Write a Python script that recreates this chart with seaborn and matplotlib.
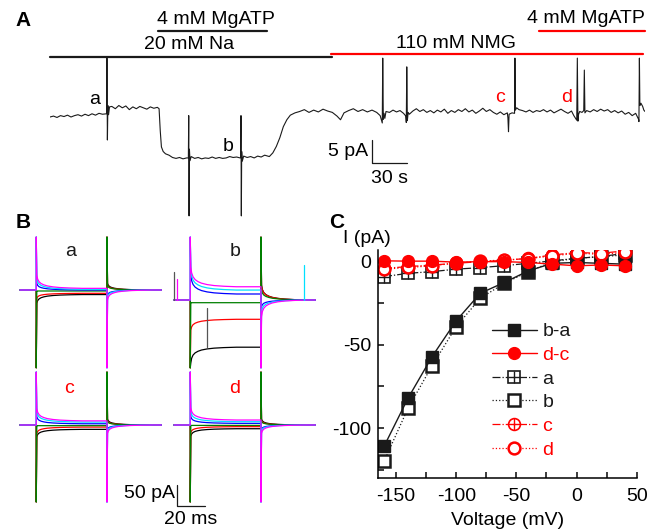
import matplotlib
matplotlib.use("Agg")
import matplotlib.pyplot as plt
from matplotlib.lines import Line2D
from matplotlib.ticker import MultipleLocator
import seaborn as sns

# ─── Panel A: continuous recording (time in s, current in pA) ─────────────
A_T = [0, 3, 6, 9, 12, 15, 18, 21, 24, 27, 30, 33, 36, 39, 42, 45, 48,
       48.5, 48.8, 49.2, 49.6, 50.2, 51,
       53, 56, 59, 62, 65, 68, 71, 74, 77, 80, 83, 86, 89, 92,
       93.5, 94.5, 95.5, 97, 99, 102, 105, 108, 111, 114, 117,
       118.6, 118.9, 119.2, 119.5, 120, 121,
       124, 127, 130, 133, 136, 139, 142, 145, 148, 151, 154, 157, 160, 163,
       163.4, 163.7, 164.0, 164.3, 164.8, 166,
       169, 172, 175, 178, 181, 184, 188, 191, 194, 197, 200, 203, 206, 210,
       214, 218, 222, 226, 230, 234, 238, 242, 246, 249, 252, 256, 260, 264,
       268, 272, 276, 280, 283,
       284.8, 285.2, 285.7, 286.3, 287, 288,
       291, 294, 297, 300, 303, 305.0,
       305.4, 305.8, 306.3, 307, 308,
       311, 314, 317, 320, 323, 326, 329, 332, 335, 338, 341, 344, 347, 350,
       353, 356, 359, 362, 365, 368, 371, 374, 377, 380, 383, 386, 389, 392,
       392.5, 393, 393.5, 396, 398.2, 398.5, 398.9, 400, 402,
       405, 408, 411, 414, 417, 420, 423, 426, 429, 432, 435, 438, 441, 444,
       447, 449,
       451.5, 452, 452.5, 453, 454, 456, 457.5, 458, 458.5, 460,
       463, 466, 469, 472, 475, 478, 481, 484, 487, 490, 493, 496, 499, 502,
       504.5, 504.8, 505.2, 505.6, 506.5, 508, 509, 510]
A_I = [0.0, 0.2, -0.1, 0.3, 0.1, 0.4, 0.0, 0.3, 0.5, 0.2, 0.6, 0.3, 0.7, 0.4, 0.8, 0.6, 0.7,
       0.7, 12.8, -5.0, 2.5, 0.5, 2.2,
       2.3, 1.8, 2.5, 2.0, 2.4, 1.6, 2.2, 1.8, 2.3, 2.0, 1.7, 2.2, 1.9, 2.1,
       1.8, -3.0, -6.5, -7.5, -8.0, -8.3, -8.8, -9.0, -8.8, -9.1, -8.9,
       -8.9, 0.3, -21.5, -7.0, -9.5, -8.6,
       -9.0, -8.8, -9.1, -8.9, -9.0, -8.7, -9.0, -8.8, -9.0, -8.9, -8.6, -8.8, -8.7, -8.9,
       -8.8, 0.3, -21.5, -7.5, -9.6, -8.5,
       -8.8, -8.6, -8.9, -8.5, -8.7, -8.3, -8.6, -7.8, -6.4, -4.5, -2.1, -0.6, 0.4, 0.9,
       1.2, 1.6, 1.0, 1.5, 1.1, 1.7, 1.3, 1.0, 0.2, -0.6, 0.9, 1.4, 1.8, 1.2,
       1.6, 1.1, 1.5, 1.0, 0.3,
       -1.3, 12.8, -0.5, 0.8, -0.3, 1.2,
       1.0, 1.5, 1.1, 1.4, 0.8, 0.2,
       -1.2, 10.9, -0.8, 1.0, 0.6,
       1.3, 1.8, 1.2, 1.6, 1.0, 1.4, 0.9, 1.5, 1.1, 1.7, 0.8, 1.4, 1.0, 1.6,
       1.2, 1.8, 1.1, 1.5, 0.8, 1.3, 1.9, 1.2, 1.6, 1.0, 0.6, 1.1, 0.5, 0.9,
       -0.2, -3.2, 0.6, 0.9, 0.8, 12.8, 1.5, 2.0, 1.6,
       1.4, 1.1, 1.5, 1.0, 1.4, 1.2, 1.6, 1.1, 1.5, 0.9, 1.3, 1.7, 1.2, 0.8,
       1.3, 0.3,
       -0.7, 12.8, -0.9, 0.5, 1.2, 1.0, 1.4, 10.2, 0.9, 1.4,
       1.1, 1.6, 1.2, 1.7, 1.3, 1.6, 1.0, 1.4, 0.9, 1.3, 0.6, 1.0, 0.3, 0.8,
       -0.5, -1.0, 12.8, 2.5, 3.0, 2.3, 1.5, 1.2]

# solution bars (start s, end s)
NA_BAR = [0, 242]
NMG_BAR = [241, 508]
ATP1_BAR = [92.5, 186]
ATP2_BAR = [419, 510]

# ─── Panel B: step currents (time in ms, current in pA) ───────────────────
B_COLORS = ["#000000", "#ff0000", "#007f00", "#0000ff", "#00e0ff", "#ff00ff"]
SPIKE_DIR = [-1, -1, -1, 1, 1, 1]
T_ON, T_OFF, T_END = 11.6, 62.1, 101.0
TAIL_DT = [0.4, 1, 2, 3.5, 5.5, 8, 12, 17, 24, 33]
TAIL_FRAC = [1.0, 0.7, 0.5, 0.36, 0.26, 0.18, 0.11, 0.06, 0.025, 0.0]

LEVEL_a = [-11, -8, -2.4, 0, 1.6, 4]
ON_a = [-21, -12, 0, 16, 26, 32]
OFF_a = [16, 12, 10, -12, -16, -24]

LEVEL_b = [-114, -46.6, -6.5, 14.5, 24, 32]
ON_b = [-38, -26, 0, 46, 48, 48]
OFF_b = [36, 34, 24, -16, -28, -40]

LEVEL_c = [-10.5, -5, -1.6, 3, 7, 10]
ON_c = [-18, -15, 0, 17, 25, 30]
OFF_c = [14, 10, 8, -10, -14, -20]

LEVEL_d = [-9, -4, -1, 4, 8, 12]
ON_d = [-18, -14, 0, 16, 24, 30]
OFF_d = [14, 10, 8, -10, -14, -20]

CLIP_a = [128, -188]
CLIP_b = [152, -164]
CLIP_c = [128, -186]
CLIP_d = [128, -186]

# artefacts in trace b: time, low, high, colour
ART_T = [0.0, 2.4, 93.0, 23.8]
ART_LO = [0, 0, 0, -114]
ART_HI = [68, 51, 85, -19]
ART_COL = ["#555555", "#ff00ff", "#00e0ff", "#555555"]

# ─── Panel C: I-V relations ───────────────────────────────────────────────
VOLT = [-160, -140, -120, -100, -80, -60, -40, -20, 0, 20, 40]
I_BA = [-111, -82, -57, -35.5, -19, -12.5, -5.5, -1, -0.5, -1, -1.5]
I_DC = [0.5, 0.3, 0.3, -0.3, 0, 0, -0.5, -1.5, -2.5, -2, -2.5]
I_A = [-9, -7, -6, -4.5, -3.6, -2.4, -1, 0.5, 2, 3, 5]
I_B = [-120, -88, -62.5, -39, -22, -13, -6, 0, 2, 3, 4]
I_C = [-4, -3, -2, -1, 0, 0.8, 2, 4, 5.5, 5, 6.5]
I_D = [-4.5, -3.5, -2.5, -0.8, 0.3, 1, 1.8, 3.5, 5, 4.5, 5.5]

# ─── Style ────────────────────────────────────────────────────────────────
sns.set_theme(style="ticks")
plt.rcParams.update({
    "font.family": ["Liberation Sans", "DejaVu Sans"],
    "text.color": "black",
    "axes.labelcolor": "black",
    "axes.edgecolor": "black",
    "xtick.color": "black",
    "ytick.color": "black",
    "xtick.bottom": True,
    "ytick.left": True,
    "xtick.direction": "in",
    "ytick.direction": "in",
    "axes.unicode_minus": False,
    "font.size": 14,
})

W, H = 656, 529
RED = "#ff0000"
FS = 14


def box(l, t, r, b):
    return [l / W, 1 - b / H, (r - l) / W, (b - t) / H]


fig = plt.figure(figsize=(W / 100, H / 100), dpi=100)

# ─── A ────────────────────────────────────────────────────────────────────
axA = fig.add_axes(box(50, 5, 645, 225))
axA.set_xlim(0, 510)
axA.set_ylim(-23.48, 24.35)
axA.axis("off")
axA.plot(A_T, A_I, color="k", lw=0.8)

axA.plot(NA_BAR, [13.0, 13.0], color="k", lw=1.6, clip_on=False)
axA.plot(NMG_BAR, [13.6, 13.6], color=RED, lw=1.6, clip_on=False)
axA.plot(ATP1_BAR, [18.6, 18.6], color="k", lw=1.6, clip_on=False)
axA.plot(ATP2_BAR, [18.6, 18.6], color=RED, lw=1.6, clip_on=False)
axA.text(142, 21.2, "4 mM MgATP", ha="center", va="center", fontsize=FS)
axA.text(119, 15.7, "20 mM Na", ha="center", va="center", fontsize=FS)
axA.text(348, 16.0, "110 mM NMG", ha="center", va="center", fontsize=FS)
axA.text(459, 21.4, "4 mM MgATP", ha="center", va="center", fontsize=FS)
axA.text(38.6, 3.8, "a", ha="center", va="center", fontsize=FS)
axA.text(153, -6.4, "b", ha="center", va="center", fontsize=FS)
axA.text(386, 4.3, "c", ha="center", va="center", fontsize=FS, color=RED)
axA.text(443, 4.3, "d", ha="center", va="center", fontsize=FS, color=RED)

# scale bar 5 pA / 30 s
axA.plot([276, 276, 306], [-5, -10, -10], color="k", lw=0.9, clip_on=False)
axA.text(273, -7.4, "5 pA", ha="right", va="center", fontsize=FS)
axA.text(291, -13.4, "30 s", ha="center", va="center", fontsize=FS)

fig.text(23 / W, 1 - 21 / H, "A", fontsize=15, fontweight="bold", ha="center", va="center")
fig.text(23 / W, 1 - 222 / H, "B", fontsize=15, fontweight="bold", ha="center", va="center")
fig.text(337 / W, 1 - 222 / H, "C", fontsize=15, fontweight="bold", ha="center", va="center")


# ─── B ────────────────────────────────────────────────────────────────────
def draw_steps(x0, y0, level, tail_on, tail_off, clip, label, lab_xy, lab_color):
    ax = fig.add_axes(box(x0 - 5, y0 - 70, x0 + 145, y0 + 90))
    ax.set_xlim(-3.57, 103.53)
    ax.set_ylim(-217.35, 169.05)
    ax.axis("off")
    ax.patch.set_alpha(0)
    for k, col in enumerate(B_COLORS):
        up, dn = clip
        on = up if SPIKE_DIR[k] > 0 else dn
        off = dn if SPIKE_DIR[k] > 0 else up
        t = ([0, T_ON, T_ON] + [T_ON + s for s in TAIL_DT] + [T_OFF, T_OFF]
             + [T_OFF + s for s in TAIL_DT] + [T_END])
        y = ([0, 0, on] + [level[k] + tail_on[k] * f for f in TAIL_FRAC] + [level[k], off]
             + [tail_off[k] * f for f in TAIL_FRAC] + [0])
        ax.plot(t, y, color=col, lw=0.9)
    ax.text(lab_xy[0], lab_xy[1], label, ha="center", va="center", fontsize=FS,
            color=lab_color, clip_on=False)
    return ax


draw_steps(20, 290, LEVEL_a, ON_a, OFF_a, CLIP_a, "a", (36.4, 92), "k")
axb = draw_steps(174, 300, LEVEL_b, ON_b, OFF_b, CLIP_b, "b", (44, 116), "k")
for t, lo, hi, col in zip(ART_T, ART_LO, ART_HI, ART_COL):
    axb.plot([t, t], [lo, hi], color=col, lw=0.9)
draw_steps(20, 425, LEVEL_c, ON_c, OFF_c, CLIP_c, "c", (35, 89), RED)
axd = draw_steps(174, 425, LEVEL_d, ON_d, OFF_d, CLIP_d, "d", (43.6, 89), RED)

# scale bar 50 pA / 20 ms
axd.plot([1.9, 1.9, 21.9], [-145, -195, -195], color="k", lw=0.9, clip_on=False)
axd.text(1.0, -165, "50 pA", ha="right", va="center", fontsize=FS)
axd.text(12, -228, "20 ms", ha="center", va="center", fontsize=FS, clip_on=False)

# ─── C ────────────────────────────────────────────────────────────────────
axC = fig.add_axes(box(378, 250, 636.7, 478))
ms, mew = 8.5, 1.8

sns.lineplot(x=VOLT, y=I_A, ax=axC, estimator=None, sort=False, color="k", lw=0.9,
             linestyle="-.", marker="s", markersize=ms, markerfacecolor="white",
             markeredgecolor="k", markeredgewidth=1.2)
axC.plot(VOLT, I_A, linestyle="none", marker="+", markersize=ms, color="k", mew=1.0)
sns.lineplot(x=VOLT, y=I_B, ax=axC, estimator=None, sort=False, color="k", lw=0.9,
             linestyle=":", marker="s", markersize=ms, markerfacecolor="white",
             markeredgecolor="k", markeredgewidth=mew)
sns.lineplot(x=VOLT, y=I_BA, ax=axC, estimator=None, sort=False, color="k", lw=1.0,
             linestyle="-", marker="s", markersize=ms, markerfacecolor="k",
             markeredgecolor="k", markeredgewidth=1)
sns.lineplot(x=VOLT, y=I_C, ax=axC, estimator=None, sort=False, color=RED, lw=0.9,
             linestyle="-.", marker="o", markersize=ms, markerfacecolor="white",
             markeredgecolor=RED, markeredgewidth=1.2)
axC.plot(VOLT, I_C, linestyle="none", marker="+", markersize=ms, color=RED, mew=1.0)
sns.lineplot(x=VOLT, y=I_D, ax=axC, estimator=None, sort=False, color=RED, lw=0.9,
             linestyle=":", marker="o", markersize=ms, markerfacecolor="white",
             markeredgecolor=RED, markeredgewidth=mew)
sns.lineplot(x=VOLT, y=I_DC, ax=axC, estimator=None, sort=False, color=RED, lw=1.0,
             linestyle="-", marker="o", markersize=ms, markerfacecolor=RED,
             markeredgecolor=RED, markeredgewidth=1)

axC.set_xlim(-165, 50)
axC.set_ylim(-130, 7)
axC.set_xticks([-150, -100, -50, 0, 50])
axC.set_yticks([-100, -50, 0])
axC.xaxis.set_minor_locator(MultipleLocator(25))
axC.yaxis.set_minor_locator(MultipleLocator(25))
axC.tick_params(which="both", direction="in", length=4, width=1.2, labelsize=FS,
                color="k", bottom=True, left=True)
axC.tick_params(axis="x", which="major", pad=7)
axC.tick_params(axis="y", which="major", pad=5)
for side in ["top", "right"]:
    axC.spines[side].set_visible(False)
for side in ["left", "bottom"]:
    axC.spines[side].set_linewidth(1.1)
axC.set_xlabel("Voltage (mV)", fontsize=FS, labelpad=5)
axC.set_ylabel("")
fig.text(367 / W, 1 - 238 / H, "I (pA)", ha="center", va="center", fontsize=FS)

h_ba = Line2D([], [], color="k", lw=1.0, marker="s", markersize=ms, markerfacecolor="k")
h_dc = Line2D([], [], color=RED, lw=1.0, marker="o", markersize=ms, markerfacecolor=RED)
h_a = (Line2D([], [], color="k", lw=0.9, linestyle="-.", marker="s", markersize=ms,
              markerfacecolor="white", markeredgewidth=1.2),
       Line2D([], [], color="k", linestyle="none", marker="+", markersize=ms, mew=1.0))
h_b = Line2D([], [], color="k", lw=0.9, linestyle=":", marker="s", markersize=ms,
             markerfacecolor="white", markeredgewidth=mew)
h_c = (Line2D([], [], color=RED, lw=0.9, linestyle="-.", marker="o", markersize=ms,
              markerfacecolor="white", markeredgewidth=1.2),
       Line2D([], [], color=RED, linestyle="none", marker="+", markersize=ms, mew=1.0))
h_d = Line2D([], [], color=RED, lw=0.9, linestyle=":", marker="o", markersize=ms,
             markerfacecolor="white", markeredgewidth=mew)
leg = axC.legend([h_ba, h_dc, h_a, h_b, h_c, h_d], ["b-a", "d-c", "a", "b", "c", "d"],
                 loc="upper left", bbox_to_anchor=(0.44, 0.681), frameon=False,
                 handlelength=2.3, handletextpad=0.3, labelspacing=0.31,
                 borderpad=0, borderaxespad=0, fontsize=FS)
for txt, col in zip(leg.get_texts(), ["k", RED, "k", "k", RED, RED]):
    txt.set_color(col)

fig.savefig("out.png", dpi=100)
